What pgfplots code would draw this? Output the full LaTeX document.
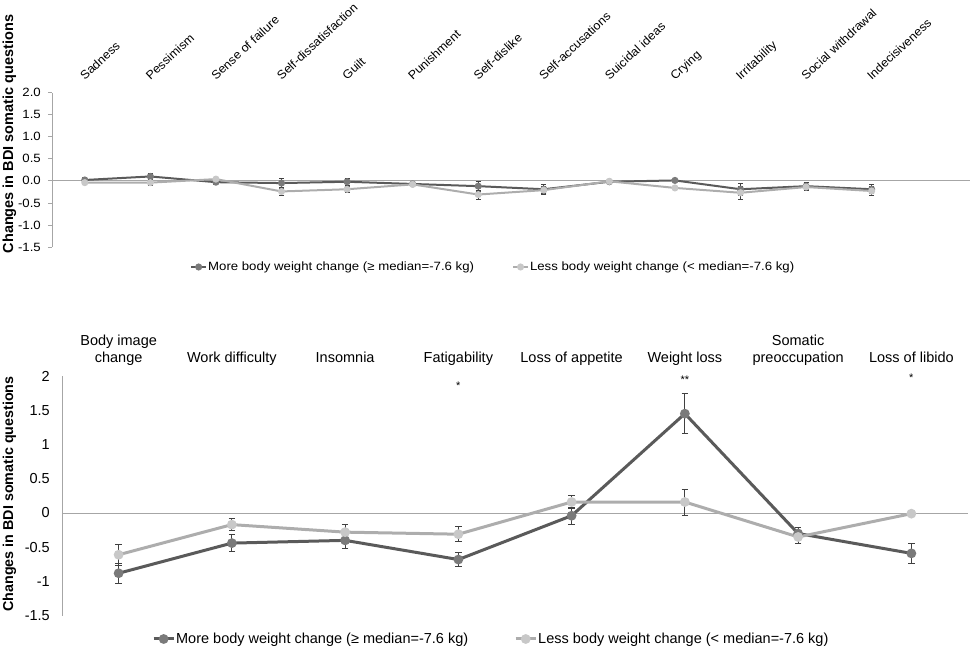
\documentclass[border=0pt]{standalone}
\usepackage{pgfplots}
\pgfplotsset{compat=1.18}
\usepackage{pgfplotstable}
\usepackage{fontspec}
\setmainfont{Liberation Sans}
\newfontfamily\topfont{Liberation Sans}[FakeStretch=1.1]
\newfontfamily\toplabfont{Liberation Sans}[FakeStretch=1.05]
\definecolor{darkser}{HTML}{5A5A5A}
\definecolor{darkmk}{HTML}{7A7A7A}
\definecolor{lightser}{HTML}{ADADAD}
\definecolor{lightmk}{HTML}{C8C8C8}
\definecolor{axgray}{HTML}{A6A6A6}
\definecolor{errgray}{HTML}{404040}

\pgfplotstableread{
x d de l le
0 0.02 0.06 -0.04 0.05
1 0.10 0.07 -0.04 0.07
2 -0.03 0.05 0.04 0.04
3 -0.05 0.10 -0.24 0.08
4 -0.02 0.08 -0.19 0.07
5 -0.07 0.04 -0.08 0.04
6 -0.12 0.11 -0.31 0.10
7 -0.19 0.10 -0.21 0.09
8 -0.02 0.03 -0.01 0.03
9 0.01 0.03 -0.16 0.04
10 -0.19 0.14 -0.27 0.15
11 -0.12 0.08 -0.14 0.07
12 -0.19 0.10 -0.23 0.10
}\topdata

\pgfplotstableread{
x d de l le
0 -0.88 0.15 -0.61 0.15
1 -0.44 0.12 -0.17 0.09
2 -0.40 0.12 -0.28 0.12
3 -0.68 0.10 -0.31 0.11
4 -0.04 0.12 0.16 0.09
5 1.45 0.29 0.16 0.19
6 -0.30 0.09 -0.35 0.10
7 -0.59 0.14 -0.01 0.03
}\botdata

\newcommand{\topf}{\topfont\fontsize{12}{14}\selectfont}
\newcommand{\toplabf}{\toplabfont\fontsize{12}{14}\selectfont}
\newcommand{\botf}{\fontsize{14.5}{17}\selectfont}

\begin{document}
\begin{tikzpicture}
\path[use as bounding box] (0,0) rectangle (972pt,651pt);

% ---------- top panel ----------
\begin{axis}[
  at={(52pt,404pt)}, anchor=south west,
  scale only axis, width=918pt, height=154.3pt,
  xmin=-0.5, xmax=13.5, ymin=-1.5, ymax=2,
  axis x line=none, axis y line*=left,
  y axis line style={axgray, line width=0.8pt},
  ytick={-1.5,-1,-0.5,0,0.5,1,1.5,2},
  major tick length=4pt, tick align=outside,
  ytick style={axgray, line width=0.8pt},
  yticklabel style={font=\topf, anchor=east, inner sep=0pt, xshift=-7pt,
    /pgf/number format/.cd, fixed, fixed zerofill, precision=1, assume math mode=true},
  ylabel={\bfseries Changes in BDI somatic questions},
  every axis y label/.style={at={(axis description cs:-0.0463,0.732)}, rotate=90, anchor=center,
    font=\fontsize{14.5}{16}\selectfont},
  clip=false,
  legend columns=2,
  legend cell align=left,
  legend style={at={(0.1503,-0.1296)}, anchor=west, draw=none, fill=none, inner sep=0pt,
    font=\topf, nodes={inner sep=1pt},
    /tikz/every even column/.append style={column sep=37pt}},
  legend image code/.code={\draw[mark repeat=2,mark phase=2,#1] plot coordinates {(0pt,0pt) (7.5pt,0pt) (15pt,0pt)};},
]
\addplot[axgray, line width=0.8pt, forget plot] coordinates {(-0.5,0) (13.5,0)};
\addplot[darkser, line width=2pt, mark=*, mark size=2.5pt,
  mark options={fill=darkmk, draw=darkmk},
  error bars/.cd, y dir=both, y explicit,
  error bar style={line width=0.7pt, errgray},
  error mark options={rotate=90, mark size=2.5pt, line width=0.7pt, errgray}]
  table[x=x, y=d, y error=de] {\topdata};
\addlegendentry{More body weight change (≥ median=-7.6 kg)}
\addplot[lightser, line width=2pt, mark=*, mark size=2.5pt,
  mark options={fill=lightmk, draw=lightmk},
  error bars/.cd, y dir=both, y explicit,
  error bar style={line width=0.7pt, errgray},
  error mark options={rotate=90, mark size=2.5pt, line width=0.7pt, errgray}]
  table[x=x, y=l, y error=le] {\topdata};
\addlegendentry{Less body weight change (< median=-7.6 kg)}

\begin{scope}[every node/.style={rotate=43, anchor=base west, font=\toplabf, inner sep=0pt}]
\node at ([yshift=12pt]axis cs:0,2) {Sadness};
\node at ([yshift=12pt]axis cs:1,2) {Pessimism};
\node at ([yshift=12pt]axis cs:2,2) {Sense of failure};
\node at ([yshift=12pt]axis cs:3,2) {Self-dissatisfaction};
\node at ([yshift=12pt]axis cs:4,2) {Guilt};
\node at ([yshift=12pt]axis cs:5,2) {Punishment};
\node at ([yshift=12pt]axis cs:6,2) {Self-dislike};
\node at ([yshift=12pt]axis cs:7,2) {Self-accusations};
\node at ([yshift=12pt]axis cs:8,2) {Suicidal ideas};
\node at ([yshift=12pt]axis cs:9,2) {Crying};
\node at ([yshift=12pt]axis cs:10,2) {Irritability};
\node at ([yshift=12pt]axis cs:11,2) {Social withdrawal};
\node at ([yshift=12pt]axis cs:12,2) {Indecisiveness};
\end{scope}
\end{axis}

% ---------- bottom panel ----------
\begin{axis}[
  at={(62pt,35.3pt)}, anchor=south west,
  scale only axis, width=906pt, height=239.7pt,
  xmin=-0.5, xmax=7.5, ymin=-1.5, ymax=2,
  axis x line=none, axis y line*=left,
  y axis line style={axgray, line width=0.8pt},
  ytick={-1.5,-1,-0.5,0,0.5,1,1.5,2},
  major tick length=0pt,
  ytick style={draw=none},
  yticklabel style={font=\botf, anchor=east, inner sep=0pt, xshift=-12pt,
    /pgf/number format/.cd, fixed, assume math mode=true},
  ylabel={\bfseries Changes in BDI somatic questions},
  every axis y label/.style={at={(axis description cs:-0.0579,0.508)}, rotate=90, anchor=center,
    font=\fontsize{14.3}{16}\selectfont},
  clip=false,
  legend columns=2,
  legend cell align=left,
  legend style={at={(0.0993,-0.0972)}, anchor=west, draw=none, fill=none, inner sep=0pt,
    font=\botf, nodes={inner sep=1pt},
    /tikz/every even column/.append style={column sep=45pt}},
  legend image code/.code={\draw[mark repeat=2,mark phase=2,#1] plot coordinates {(0pt,0pt) (10pt,0pt) (20pt,0pt)};},
]
\addplot[axgray, line width=0.8pt, forget plot] coordinates {(-0.5,0) (7.5,0)};
\addplot[darkser, line width=3pt, mark=*, mark size=3.3pt,
  mark options={fill=darkmk, draw=darkmk},
  error bars/.cd, y dir=both, y explicit,
  error bar style={line width=0.8pt, errgray},
  error mark options={rotate=90, mark size=3.2pt, line width=0.8pt, errgray}]
  table[x=x, y=d, y error=de] {\botdata};
\addlegendentry{More body weight change (≥ median=-7.6 kg)}
\addplot[lightser, line width=3pt, mark=*, mark size=3.3pt,
  mark options={fill=lightmk, draw=lightmk},
  error bars/.cd, y dir=both, y explicit,
  error bar style={line width=0.8pt, errgray},
  error mark options={rotate=90, mark size=3.2pt, line width=0.8pt, errgray}]
  table[x=x, y=l, y error=le] {\botdata};
\addlegendentry{Less body weight change (< median=-7.6 kg)}

\begin{scope}[every node/.style={anchor=base, font=\botf, inner sep=0pt}]
\node at ([yshift=31pt]axis cs:0,2) {Body image};
\node at ([yshift=14pt]axis cs:0,2) {change};
\node at ([yshift=14pt]axis cs:1,2) {Work difficulty};
\node at ([yshift=14pt]axis cs:2,2) {Insomnia};
\node at ([yshift=14pt]axis cs:3,2) {Fatigability};
\node at ([yshift=14pt]axis cs:4,2) {Loss of appetite};
\node at ([yshift=14pt]axis cs:5,2) {Weight loss};
\node at ([yshift=31pt]axis cs:6,2) {Somatic};
\node at ([yshift=14pt]axis cs:6,2) {preoccupation};
\node at ([yshift=14pt]axis cs:7,2) {Loss of libido};
\end{scope}
\begin{scope}[every node/.style={anchor=center, font=\fontsize{11}{12}\selectfont, inner sep=0pt, yshift=-2.5pt}]
\node at (axis cs:3,1.90) {*};
\node at (axis cs:5,1.98) {**};
\node at (axis cs:7,2.01) {*};
\end{scope}
\end{axis}
\end{tikzpicture}
\end{document}
